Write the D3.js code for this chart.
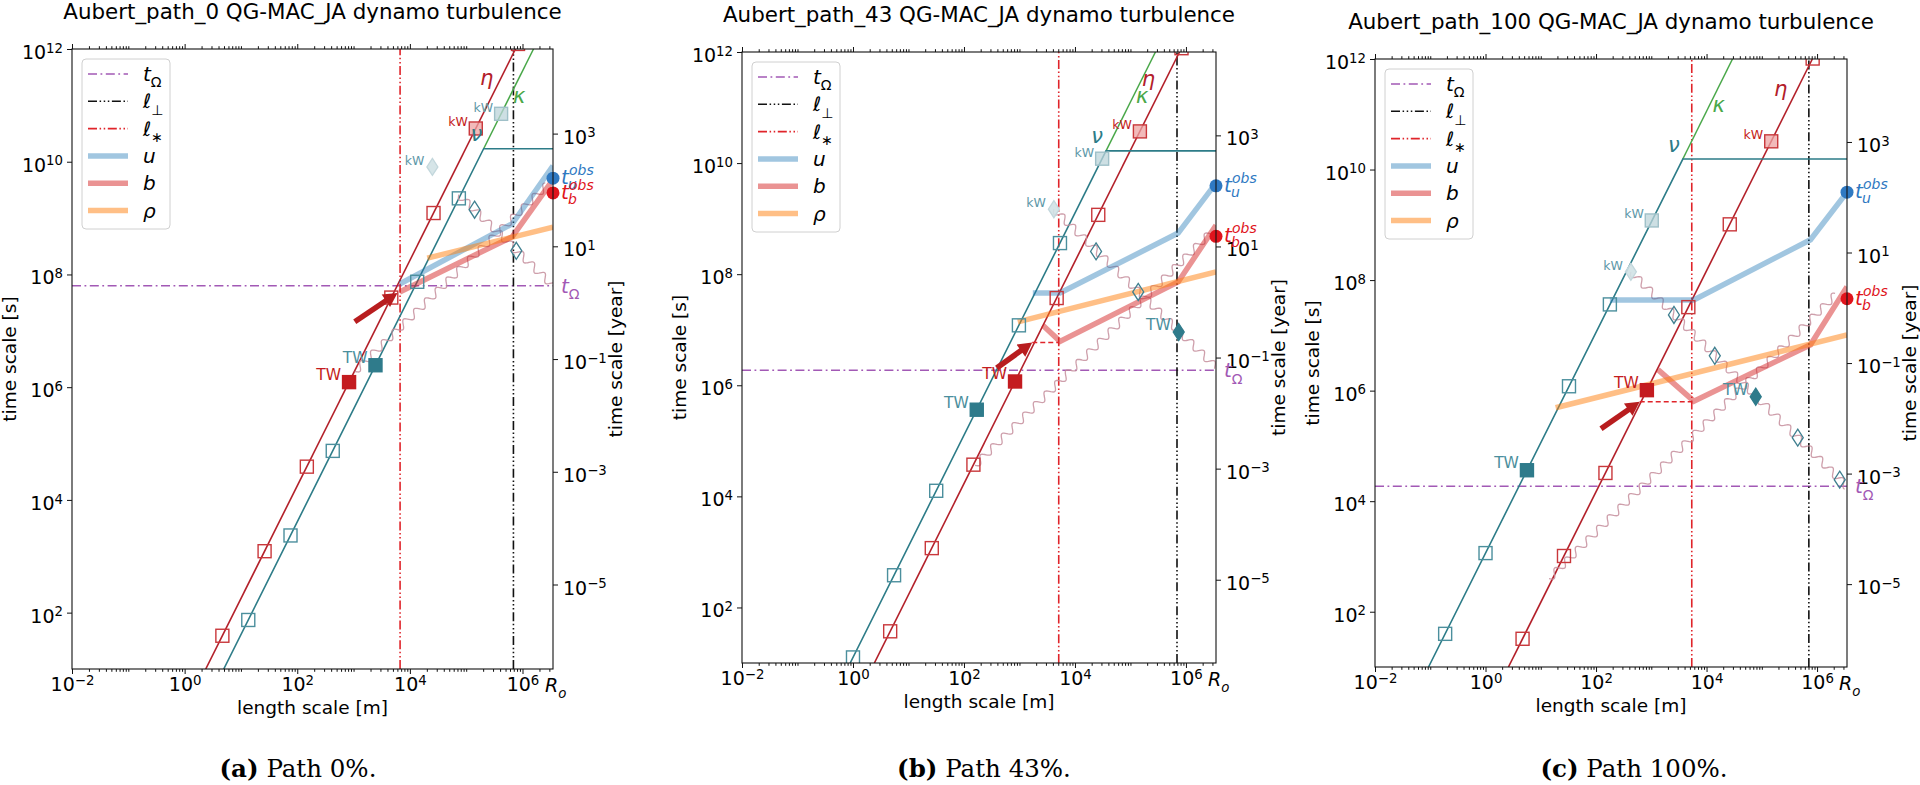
<!DOCTYPE html>
<html><head><meta charset="utf-8">
<script src="https://cdn.jsdelivr.net/npm/d3@7"></script>
<style>body{margin:0;background:#fff}svg{display:block}</style>
</head><body><svg id="c" width="1920" height="785" font-family='"DejaVu Sans",sans-serif'></svg>
<script>
// ================= DATA =================
const titles = ["Aubert_path_0 QG-MAC_JA dynamo turbulence","Aubert_path_43 QG-MAC_JA dynamo turbulence","Aubert_path_100 QG-MAC_JA dynamo turbulence"];
const captionTags = ["(a)","(b)","(c)"];
const captionTexts = ["Path 0%.","Path 43%.","Path 100%."];
const Ro = 3.48e6;                       // core radius [m]
const lengthDomain = [1e-2, Ro];
const timeDomain = [1e1, 1e12];
const SECONDS_PER_YEAR = 3.156e7;
const xTickExps = [-2, 0, 2, 4, 6];
const ySecTickExps = [2, 4, 6, 8, 10, 12];
const yYearTickExps = [-5, -3, -1, 1, 3];
const legendKeys = ["tOmega","ellPerp","ellStar","u","b","rho"];

const tOmega  = [6.3e7, 1.86e6, 1.86e4];
const ellStar = [6.7e3, 5.1e3, 5.4e3];
const ellPerp = [6.9e5, 6.9e5, 7.1e5];

const etaLine   = [[[2.37,1e1],[7.5e5,1e12]], [[2.43,1e1],[7.67e5,1e12]], [[2.6,1e1],[8.22e5,1e12]]];
const nuLine    = [[[4.95,1e1],[2.04e5,1.7e10],[Ro,1.7e10]], [[0.89,1e1],[3.63e4,1.66e10],[Ro,1.66e10]], [[0.093,1e1],[3.72e3,1.55e10],[Ro,1.55e10]]];
const kappaLine = [[[2.04e5,1.7e10],[1.57e6,1e12]], [[3.63e4,1.66e10],[2.82e5,1e12]], [[3.72e3,1.55e10],[2.95e4,1e12]]];

const etaSquareL = [4.68, 26.3, 148, 832, 4.68e3, 2.63e4, 1.48e5, 8.32e5];
const etaSquareT = [
  [38.9, 1.23e3, 3.89e4, 1.23e6, 3.89e7, 1.23e9, 3.89e10, 1.23e12],
  [37.2, 1.17e3, 3.72e4, 1.17e6, 3.72e7, 1.17e9, 3.72e10, 1.17e12],
  [32.4, 1.02e3, 3.24e4, 1.02e6, 3.24e7, 1.02e9, 3.24e10, 1.02e12]];
const etaTW = [3, 3, 3];
const etaKW = [6, 6, 6];

const nuSquareL = [[13.5, 75.9, 427, 2.45e3, 1.35e4, 7.41e4, 4.17e5], [1.0, 5.5, 31.6, 170, 977, 5.37e3, 3.09e4], [0.186, 1.0, 5.62, 32.4, 178, 1.02e3]];
const nuSquareT = [[74.1, 2.34e3, 7.41e4, 2.45e6, 7.41e7, 2.24e9, 7.08e10], [12.6, 380, 1.26e4, 3.63e5, 1.2e7, 3.63e8, 1.2e10], [39.8, 1.15e3, 3.63e4, 1.2e6, 3.63e7, 1.2e9]];
const nuTW = [3, 3, 2];
const nuKW = [6, 6, 5];

const uLine = [
  [[6.6e3,6.76e7],[6.6e5,7.94e8],[Ro,8.5e9]],
  [[1.74e3,4.57e7],[5.37e3,4.57e7],[7.24e5,5.5e8],[Ro,4.37e9]],
  [[178,4.37e7],[5.89e3,4.37e7],[7.59e5,5.37e8],[Ro,3.89e9]]];
const bLine = [
  [[6.6e3,4.9e7],[6.6e5,4.68e8],[Ro,4.8e9]],
  [[2.63e3,1.2e7],[5.37e3,6.17e6],[7.24e5,7.24e7],[Ro,7.59e8]],
  [[1.32e3,2.4e6],[5.89e3,6.46e5],[7.59e5,6.76e6],[Ro,7.59e7]]];
const rhoLine = [
  [[2.04e4,1.95e8],[Ro,6.9e8]],
  [[933,1.38e7],[Ro,1.1e8]],
  [[18.6,4.9e5],[Ro,1.02e7]]];
const tuObs = [5.1e9, 3.9e9, 3.9e9];
const tbObs = [2.8e9, 4.8e8, 4.6e7];

const arrows = [[[1.05e3,1.45e7],[6.03e3,4.68e7]], [[389,2.04e6],[1.7e3,5.89e6]], [[123,2.04e5],[617,6.31e5]]];
const dashLinks = [null, [[1.7e3,5.89e6],[5.1e3,5.89e6]], [[617,6.31e5],[5.4e3,6.31e5]]];

const waveUp   = [[[1.05e3,1.9e6],[2.75e6,3.9e9]], [[158,3.63e4],[3.1e6,6.2e8]], [[14.1,398],[2.24e6,5.6e7]]];
const waveDown = [[[7.4e4,2.6e9],[Ro,6.3e7]], [[4.17e3,1.48e9],[Ro,2.1e6]], [[427,1.41e8],[Ro,1.82e4]]];

const diamondsOpen = [
  [[1.41e5,1.41e9],[7.76e5,2.63e8]],
  [[2.4e4,2.57e8],[1.38e5,4.79e7]],
  [[2.57e3,2.34e7],[1.41e4,4.27e6],[4.47e5,1.41e5],[2.57e6,2.45e4]]];
const diamondTW = [null, [7.41e5,9.1e6], [7.76e4,7.76e5]];
const diamondKW = [[2.51e4,8.1e9], [4.17e3,1.48e9], [427,1.41e8]];

const etaLabelAt   = [[2.3e5,2.95e11], [2.1e5,3.16e11], [2.2e5,2.75e11]];
const kappaLabelAt = [[8.7e5,1.41e11], [1.62e5,1.55e11], [1.66e4,1.41e11]];
const nuLabelAt    = [[1.51e5,3.0e10], [2.5e4,2.95e10], [2.57e3,2.75e10]];

// ================= LAYOUT / STYLE =================
const layout = [
  {L:72,   T:49, W:481, H:620, capX:298},
  {L:742,  T:52, W:474, H:611, capX:984},
  {L:1375, T:59, W:472, H:608, capX:1634}];
const C = {
  purple:'#a259b5', black:'#111', lred:'#e0242a', eta:'#b3202a', nu:'#2d7c88', kappa:'#4aa84a',
  sqRed:'#c9373b', sqTeal:'#4b8f9d', twRed:'#c41c20', twTeal:'#2f7b8b',
  wave:'#c58e9c', u:'#1f77b4', b:'#d62728', rho:'#ff7f0e', arrow:'#b81d1f',
  obsU:'#2f79c2', obsB:'#e0141c', kwTeal:'#5e98a8'
};
const styles = {
  tOmega:{stroke:C.purple, w:1.5, dash:'9,3.5,1.8,3.5', op:1},
  ellPerp:{stroke:C.black, w:1.6, dash:'9,2.6,1.5,2.6,1.5,2.6,1.5,2.6', op:1},
  ellStar:{stroke:C.lred, w:1.6, dash:'9,2.6,1.5,2.6,1.5,2.6', op:1},
  u:{stroke:C.u, w:5.5, dash:null, op:0.42},
  b:{stroke:C.b, w:5.5, dash:null, op:0.5},
  rho:{stroke:C.rho, w:5.5, dash:null, op:0.5}
};

const svg = d3.select('#c');
const defs = svg.append('defs');
const sup = e => String(e).replace('-', '\u2212');

function mathText(g, x, y, parts, opts) {
  const t = g.append('text').attr('x', x).attr('y', y).attr('fill', opts.fill || '#000')
    .attr('font-size', opts.size).attr('text-anchor', opts.anchor || 'start');
  let shift = 0;
  parts.forEach(pt => {
    const ts = t.append('tspan').text(pt.t);
    if (pt.it) ts.attr('font-style', 'italic');
    const target = pt.sub ? 0.32 * opts.size : 0;
    ts.attr('dy', target - shift); shift = target;
    if (pt.sub) ts.attr('font-size', opts.size * 0.7);
  });
  return t;
}
function powLabel(textSel, e, size) {
  textSel.text(null);
  textSel.append('tspan').text('10');
  textSel.append('tspan').attr('dy', '-0.48em').attr('font-size', size * 0.7).text(sup(e));
}

layout.forEach((g, p) => {
  const x = d3.scaleLog().domain(lengthDomain).range([g.L, g.L + g.W]);
  const y = d3.scaleLog().domain(timeDomain).range([g.T + g.H, g.T]);
  const yr = d3.scaleLog().domain(timeDomain.map(t => t / SECONDS_PER_YEAR)).range([g.T + g.H, g.T]);
  const line = d3.line().x(d => x(d[0])).y(d => y(d[1]));
  const P = d => [x(d[0]), y(d[1])];

  defs.append('clipPath').attr('id', 'clip' + p).append('rect')
    .attr('x', x.range()[0]).attr('y', y.range()[1]).attr('width', g.W).attr('height', g.H);
  const root = svg.append('g');
  const plot = root.append('g').attr('clip-path', `url(#clip${p})`);

  const styled = (sel, s) => sel.attr('fill', 'none').attr('stroke', s.stroke).attr('stroke-width', s.w)
      .attr('stroke-dasharray', s.dash).attr('stroke-opacity', s.op);

  // reference lines
  styled(plot.append('path').attr('d', line([[lengthDomain[0], tOmega[p]], [lengthDomain[1], tOmega[p]]])), styles.tOmega);
  styled(plot.append('path').attr('d', line([[ellStar[p], timeDomain[0]], [ellStar[p], timeDomain[1]]])), styles.ellStar);
  styled(plot.append('path').attr('d', line([[ellPerp[p], timeDomain[0]], [ellPerp[p], timeDomain[1]]])), styles.ellPerp);

  // diffusion lines
  plot.append('path').attr('d', line(kappaLine[p])).attr('fill', 'none').attr('stroke', C.kappa).attr('stroke-width', 1.5);
  plot.append('path').attr('d', line(etaLine[p])).attr('fill', 'none').attr('stroke', C.eta).attr('stroke-width', 1.6);
  plot.append('path').attr('d', line(nuLine[p])).attr('fill', 'none').attr('stroke', C.nu).attr('stroke-width', 1.6);

  // wave lines
  function wave(seg) {
    const a = P(seg[0]), b = P(seg[1]);
    const dx = b[0] - a[0], dy = b[1] - a[1], len = Math.hypot(dx, dy);
    const ux = dx / len, uy = dy / len, nx = -uy, ny = ux, lam = 15, amp = 3.6;
    const pts = d3.range(0, len, 0.8).map(s => {
      const w = amp * Math.sin(2 * Math.PI * s / lam);
      return [a[0] + ux * s + nx * w, a[1] + uy * s + ny * w];
    });
    plot.append('path').attr('d', d3.line()(pts)).attr('fill', 'none')
      .attr('stroke', C.wave).attr('stroke-width', 1.3).attr('stroke-opacity', 0.85);
  }
  wave(waveUp[p]); wave(waveDown[p]);

  // thick u, b, rho
  styled(plot.append('path').attr('d', line(uLine[p])), styles.u);
  styled(plot.append('path').attr('d', line(bLine[p])), styles.b);
  styled(plot.append('path').attr('d', line(rhoLine[p])), styles.rho);

  if (dashLinks[p]) plot.append('path').attr('d', line(dashLinks[p])).attr('fill', 'none')
    .attr('stroke', C.lred).attr('stroke-width', 1.5).attr('stroke-dasharray', '5,3');

  // markers
  const sq = 13;
  function square(pt, stroke, fill, fop) {
    const [px, py] = P(pt);
    plot.append('rect').attr('x', px - sq / 2).attr('y', py - sq / 2).attr('width', sq).attr('height', sq)
      .attr('fill', fill).attr('fill-opacity', fop).attr('stroke', stroke).attr('stroke-width', 1.4);
  }
  function diamond(pt, stroke, fill, fop) {
    const [px, py] = P(pt);
    plot.append('path').attr('d', `M${px},${py - 8.5}L${px + 5.5},${py}L${px},${py + 8.5}L${px - 5.5},${py}Z`)
      .attr('fill', fill).attr('fill-opacity', fop).attr('stroke', stroke).attr('stroke-width', 1.3);
  }
  const labels = [];
  etaSquareL.forEach((l, i) => {
    const pt = [l, etaSquareT[p][i]];
    if (i === etaTW[p]) { square(pt, C.twRed, C.twRed, 1); labels.push([pt, 'TW', C.twRed, 15.5]); }
    else if (i === etaKW[p]) { square(pt, C.sqRed, '#eea3a3', 0.75); labels.push([pt, 'kW', C.twRed, 12.5]); }
    else square(pt, C.sqRed, 'none', 0);
  });
  nuSquareL[p].forEach((l, i) => {
    const pt = [l, nuSquareT[p][i]];
    if (i === nuTW[p]) { square(pt, C.twTeal, C.twTeal, 1); labels.push([pt, 'TW', C.sqTeal, 15.5]); }
    else if (i === nuKW[p]) { square(pt, '#9fc0c8', '#bcd4d9', 0.75); labels.push([pt, 'kW', C.kwTeal, 12.5]); }
    else square(pt, C.sqTeal, 'none', 0);
  });
  diamond(diamondKW[p], '#c3d7dc', '#d2e2e6', 0.9); labels.push([diamondKW[p], 'kW', C.kwTeal, 12.5]);
  diamondsOpen[p].forEach(pt => diamond(pt, '#3f7f8f', 'none', 0));
  if (diamondTW[p]) { diamond(diamondTW[p], C.twTeal, C.twTeal, 1); labels.push([diamondTW[p], 'TW', C.sqTeal, 15.5]); }

  // observed dots
  root.append('circle').attr('cx', x(Ro)).attr('cy', y(tuObs[p])).attr('r', 6.5).attr('fill', C.obsU);
  root.append('circle').attr('cx', x(Ro)).attr('cy', y(tbObs[p])).attr('r', 6.5).attr('fill', C.obsB);

  // arrow
  {
    const a = P(arrows[p][0]), b = P(arrows[p][1]);
    const dx = b[0] - a[0], dy = b[1] - a[1], len = Math.hypot(dx, dy);
    const ux = dx / len, uy = dy / len, nx = -uy, ny = ux, hl = 14, hw = 7.5;
    const bx = b[0] - ux * hl, by = b[1] - uy * hl;
    root.append('line').attr('x1', a[0]).attr('y1', a[1]).attr('x2', bx + ux).attr('y2', by + uy)
      .attr('stroke', C.arrow).attr('stroke-width', 5.5);
    root.append('path').attr('d', `M${b[0]},${b[1]}L${bx + nx * hw},${by + ny * hw}L${bx - nx * hw},${by - ny * hw}Z`)
      .attr('fill', C.arrow);
  }

  // marker labels
  labels.forEach(([pt, txt, col, fs]) => {
    const [px, py] = P(pt);
    root.append('text').attr('x', px - 8).attr('y', py - 2).attr('text-anchor', 'end')
      .attr('font-size', fs).attr('fill', col).text(txt);
  });
  // greek labels
  [[etaLabelAt, '\u03b7', C.eta], [kappaLabelAt, '\u03ba', C.kappa], [nuLabelAt, '\u03bd', C.nu]].forEach(([arr, s, col]) => {
    const [px, py] = P(arr[p]);
    root.append('text').attr('x', px).attr('y', py).attr('dy', '0.3em').attr('text-anchor', 'middle')
      .attr('font-size', 21).attr('font-style', 'italic').attr('fill', col).text(s);
  });

  // ---------- axes ----------
  const fs = 19;
  const xMajor = xTickExps.map(e => Math.pow(10, e));
  const xMinor = [];
  d3.range(-2, 7).forEach(k => d3.range(1, 10).forEach(m => {
    const v = m * Math.pow(10, k);
    if (v <= Ro && !(m === 1 && k % 2 === 0)) xMinor.push(v);
  }));
  const yMajor = ySecTickExps.map(e => Math.pow(10, e));
  const yrMajor = yYearTickExps.map(e => Math.pow(10, e));

  const axG = root.append('g');
  const fixText = sel => sel.attr('font-size', fs).attr('font-family', null)
    .each(function (d) { powLabel(d3.select(this), Math.round(Math.log10(d)), fs); });
  const bottom = axG.append('g').attr('transform', `translate(0,${y.range()[0]})`)
    .call(d3.axisBottom(x).tickValues(xMajor).tickSize(5).tickSizeOuter(0).tickPadding(4));
  bottom.attr('font-family', null).attr('font-size', null);
  fixText(bottom.selectAll('.tick text'));
  axG.append('g').attr('transform', `translate(0,${y.range()[0]})`)
    .call(d3.axisBottom(x).tickValues(xMinor).tickSize(2.8).tickSizeOuter(0).tickFormat(''));
  axG.append('g').attr('transform', `translate(0,${y.range()[1]})`)
    .call(d3.axisTop(x).tickValues(xMajor).tickSize(5).tickSizeOuter(0).tickFormat(''));
  axG.append('g').attr('transform', `translate(0,${y.range()[1]})`)
    .call(d3.axisTop(x).tickValues(xMinor).tickSize(2.8).tickSizeOuter(0).tickFormat(''));
  const left = axG.append('g').attr('transform', `translate(${x.range()[0]},0)`)
    .call(d3.axisLeft(y).tickValues(yMajor).tickSize(5).tickSizeOuter(0).tickPadding(4));
  left.attr('font-family', null).attr('font-size', null);
  fixText(left.selectAll('.tick text').attr('dy', '0.5em'));
  const right = axG.append('g').attr('transform', `translate(${x.range()[1]},0)`)
    .call(d3.axisRight(yr).tickValues(yrMajor).tickSize(5).tickSizeOuter(0).tickPadding(5));
  right.attr('font-family', null).attr('font-size', null);
  fixText(right.selectAll('.tick text').attr('dy', '0.5em'));
  axG.selectAll('.domain').remove();
  axG.selectAll('.tick line').attr('stroke', '#111');
  root.append('rect').attr('x', x.range()[0]).attr('y', y.range()[1]).attr('width', g.W).attr('height', g.H)
    .attr('fill', 'none').attr('stroke', '#111').attr('stroke-width', 1.1);

  // R_o tick label
  mathText(root, x(Ro) - 8, y.range()[0] + 23, [{t:'R', it:true}, {t:'o', it:true, sub:true}], {size: 19});

  // axis titles
  const midX = (x.range()[0] + x.range()[1]) / 2, midY = (y.range()[0] + y.range()[1]) / 2;
  root.append('text').attr('x', midX).attr('y', y.range()[0] + 45).attr('text-anchor', 'middle')
    .attr('font-size', 18.5).text('length scale [m]');
  root.append('text').attr('transform', `translate(${x.range()[0] - 56},${midY}) rotate(-90)`).attr('text-anchor', 'middle')
    .attr('font-size', 18.5).text('time scale [s]');
  root.append('text').attr('transform', `translate(${x.range()[1] + 69},${midY}) rotate(-90)`).attr('text-anchor', 'middle')
    .attr('font-size', 18.5).text('time scale [year]');

  // title
  root.append('text').attr('x', midX).attr('y', y.range()[1] - 30).attr('text-anchor', 'middle')
    .attr('font-size', 21.4).text(titles[p]);
  // caption
  const cap = root.append('text').attr('x', g.capX).attr('y', 777).attr('text-anchor', 'middle')
    .attr('font-size', 24.5).attr('font-family', '"DejaVu Serif",serif');
  cap.append('tspan').attr('font-weight', 'bold').text(captionTags[p]);
  cap.append('tspan').text(' ' + captionTexts[p]);

  // right-side annotations
  const rx = x.range()[1] + 8;
  mathText(root, rx, y(tOmega[p]) + 7, [{t:'t', it:true}, {t:'\u03a9', sub:true}], {size: 20, fill: C.purple});
  [[tuObs[p], 'u', C.obsU], [tbObs[p], 'b', C.obsB]].forEach(([tv, s, col]) => {
    const yy = y(tv) + 6;
    root.append('text').attr('x', rx).attr('y', yy).attr('font-size', 20).attr('font-style', 'italic').attr('fill', col).text('t');
    root.append('text').attr('x', rx + 7).attr('y', yy + 5).attr('font-size', 14).attr('font-style', 'italic').attr('fill', col).text(s);
    root.append('text').attr('x', rx + 8).attr('y', yy - 9).attr('font-size', 14).attr('font-style', 'italic').attr('fill', col).text('obs');
  });

  // legend
  const lg = root.append('g').attr('transform', `translate(${x.range()[0] + 10},${y.range()[1] + 10})`);
  lg.append('rect').attr('width', 88).attr('height', 170).attr('rx', 4).attr('fill', '#fff').attr('fill-opacity', 0.85)
    .attr('stroke', '#d0d0d0').attr('stroke-width', 1);
  const legendText = {
    tOmega: [{t:'t', it:true}, {t:'\u03a9', sub:true}],
    ellPerp: [{t:'\u2113', it:true}, {t:'\u22a5', sub:true}],
    ellStar: [{t:'\u2113', it:true}, {t:'\u2217', sub:true}],
    u: [{t:'u', it:true}], b: [{t:'b', it:true}], rho: [{t:'\u03c1', it:true}]
  };
  legendKeys.forEach((k, i) => {
    const yy = 15 + i * 27.3;
    styled(lg.append('line').attr('x1', 6).attr('x2', 46).attr('y1', yy).attr('y2', yy), styles[k]);
    mathText(lg, 61, yy + 7, legendText[k], {size: 20});
  });
});
</script></body></html>
